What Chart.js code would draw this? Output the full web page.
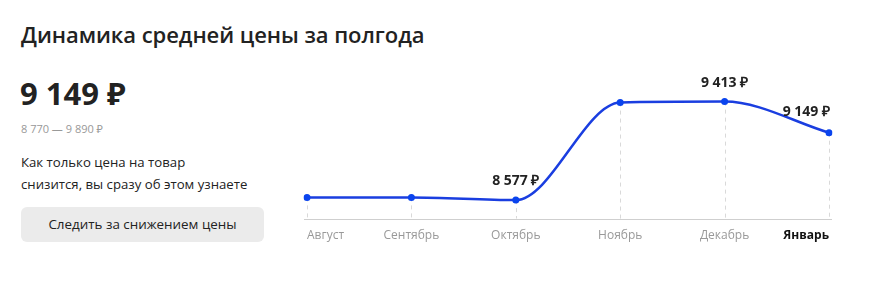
<!DOCTYPE html>
<html lang="ru">
<head>
<meta charset="utf-8">
<script src="https://cdn.jsdelivr.net/npm/chart.js@4"></script>
<style>
  body { margin:0; width:895px; height:282px; background:#fff; font-family:"Open Sans", "Noto Sans", sans-serif; color:#222; position:relative; overflow:hidden; }
  .title { position:absolute; left:21px; top:19px; font-size:22px; font-weight:600; color:#222; letter-spacing:-0.05px; }
  .price { position:absolute; left:20px; top:72px; font-size:31px; font-weight:700; color:#222; }
  .range { position:absolute; left:21px; top:121px; font-size:11px; color:#999; }
  .note { position:absolute; left:21px; top:151px; font-size:13.2px; line-height:22px; color:#222; }
  .btn { position:absolute; left:21px; top:207px; width:243px; height:35px; border-radius:6px; background:#ebebeb; font-size:13.4px; line-height:35px; text-align:center; color:#222; }
  .chart { position:absolute; left:280px; top:50px; width:590px; height:210px; }
</style>
</head>
<body>
<div class="title">Динамика средней цены за полгода</div>
<div class="price">9 149 ₽</div>
<div class="range">8 770 — 9 890 ₽</div>
<div class="note">Как только цена на товар<br>снизится, вы сразу об этом узнаете</div>
<div class="btn">Следить за снижением цены</div>
<div class="chart"><canvas id="priceChart"></canvas></div>
<script>
var months = ['Август', 'Сентябрь', 'Октябрь', 'Ноябрь', 'Декабрь', 'Январь'];
var prices = [8600, 8600, 8577, 9405, 9413, 9149];
var labelled = [2, 4, 5];

function fmt(v) {
  return String(v).replace(/\B(?=(\d{3})+(?!\d))/g, ' ') + ' ₽';
}

var guides = {
  id: 'guides',
  beforeDatasetsDraw: function(chart) {
    var ctx = chart.ctx, area = chart.chartArea;
    var pts = chart.getDatasetMeta(0).data;
    ctx.save();
    ctx.strokeStyle = '#d9d9d9';
    ctx.lineWidth = 1;
    ctx.setLineDash([4, 4]);
    pts.forEach(function(p) {
      ctx.beginPath();
      ctx.moveTo(Math.round(p.x) + 0.5, p.y);
      ctx.lineTo(Math.round(p.x) + 0.5, area.bottom);
      ctx.stroke();
    });
    ctx.setLineDash([]);
    ctx.strokeStyle = '#cfcfcf';
    ctx.beginPath();
    ctx.moveTo(area.left - 3, Math.round(area.bottom) + 0.5);
    ctx.lineTo(area.right + 3, Math.round(area.bottom) + 0.5);
    ctx.stroke();
    ctx.restore();
  },
  afterDatasetsDraw: function(chart) {
    var ctx = chart.ctx;
    var pts = chart.getDatasetMeta(0).data;
    ctx.save();
    ctx.font = 'bold 14px "Open Sans", sans-serif';
    ctx.fillStyle = '#222';
    ctx.textBaseline = 'middle';
    labelled.forEach(function(i) {
      var p = pts[i];
      if (i === pts.length - 1) {
        ctx.textAlign = 'right';
        ctx.fillText(fmt(prices[i]), p.x + 1, p.y - 21);
      } else {
        ctx.textAlign = 'center';
        ctx.fillText(fmt(prices[i]), p.x, p.y - 19);
      }
    });
    ctx.restore();
  }
};

const data = {
  labels: months,
  datasets: [{
    data: prices,
    borderColor: '#1a3ee0',
    backgroundColor: '#0a44ee',
    borderWidth: 2.5,
    pointRadius: 3.5,
    pointHoverRadius: 3.5,
    pointBorderWidth: 0,
    cubicInterpolationMode: 'monotone',
    fill: false
  }]
};

const config = {
  type: 'line',
  data,
  options: {
    responsive: true,
    maintainAspectRatio: false,
    animation: false,
    events: [],
    layout: { padding: { left: 27, right: 41, top: 6, bottom: 7 } },
    plugins: { legend: { display: false }, tooltip: { enabled: false } },
    scales: {
      x: {
        offset: false,
        grid: { display: false, drawTicks: false },
        border: { display: false },
        ticks: {
          padding: 10,
          align: 'inner',
          maxRotation: 0,
          autoSkip: false,
          font: function(c) { return c.index === months.length - 1 ? { family: '"Open Sans", sans-serif', size: 12, weight: 'bold' } : { family: '"Open Sans", sans-serif', size: 12 }; },
          color: function(c) { return c.index === months.length - 1 ? '#111' : '#999'; }
        }
      },
      y: { display: false, min: 8420, max: 9800 }
    }
  },
  plugins: [guides]
};

var myChart = new Chart(document.getElementById('priceChart'), config);
</script>
</body>
</html>
